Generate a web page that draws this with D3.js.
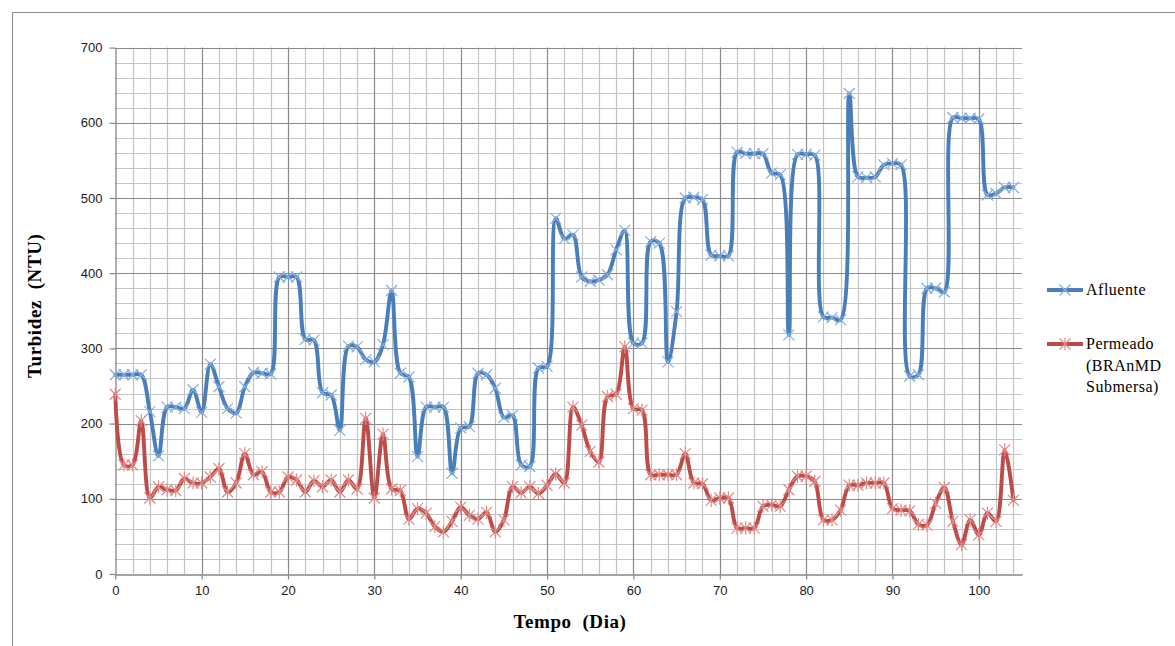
<!DOCTYPE html>
<html>
<head>
<meta charset="utf-8">
<script src="https://cdn.jsdelivr.net/npm/d3@7"></script>
<style>
  html, body { margin: 0; padding: 0; background: #ffffff; }
  svg { display: block; }
  text { white-space: pre; }
</style>
</head>
<body>
<svg id="chart" width="1175" height="646"></svg>
<script>
// Turbidity per day: influent vs. permeate
const days = d3.range(0, 105);

const afluente = [
  265, 265, 265, 265, 216, 157, 222, 222, 220, 245,
  215, 279, 249, 220, 214, 249, 268, 267, 266, 395,
  395, 395, 312, 311, 241, 238, 191, 303, 302, 285,
  282, 305, 377, 267, 262, 156, 222, 222, 222, 134,
  194, 196, 267, 265, 247, 208, 211, 145, 143, 274,
  276, 473, 446, 451, 395, 389, 391, 398, 431, 457,
  307, 307, 442, 440, 282, 349, 500, 501, 498, 424,
  423, 423, 561, 559, 559, 559, 533, 531, 318, 558,
  558, 557, 342, 341, 338, 639, 528, 527, 528, 544,
  546, 544, 263, 265, 380, 380, 375, 607, 606, 606,
  605, 504, 506, 514, 514
];

const permeado = [
  239, 145, 145, 204, 101, 116, 112, 111, 127, 121,
  121, 129, 140, 109, 121, 160, 132, 136, 109, 109,
  129, 125, 109, 124, 116, 125, 109, 125, 113, 207,
  101, 186, 113, 111, 73, 87, 81, 63, 56, 70,
  89, 78, 73, 82, 56, 72, 116, 108, 116, 107,
  118, 133, 121, 222, 198, 163, 149, 236, 239, 302,
  220, 218, 132, 132, 132, 132, 160, 121, 120, 98,
  101, 101, 61, 61, 61, 90, 92, 90, 112, 130,
  130, 123, 72, 72, 85, 118, 118, 121, 121, 121,
  87, 85, 84, 66, 65, 94, 115, 70, 39, 72,
  52, 81, 70, 165, 98
];

const xTicks = d3.range(0, 101, 10);
const yTicks = d3.range(0, 701, 100);
const seriesNames = ["Afluente", ["Permeado", "(BRAnMD", "Submersa)"]];

const svg = d3.select("#chart");

// outer chart frame
svg.append("rect")
  .attr("x", 12.5).attr("y", 12.5)
  .attr("width", 1200).attr("height", 700)
  .attr("fill", "none").attr("stroke", "#8c8c8c").attr("stroke-width", 1);

const plot = { left: 115.3, right: 1022, top: 47.6, bottom: 574 };

const x = d3.scaleLinear().domain([0, 105]).range([plot.left, plot.right]);
const y = d3.scaleLinear().domain([0, 700]).range([plot.bottom, plot.top]);

// minor grid
const grid = svg.append("g");
grid.selectAll("line.vmin")
  .data(d3.range(2, 105, 2).filter(d => d % 10 !== 0))
  .join("line")
  .attr("x1", d => Math.round(x(d)) + 0.5).attr("x2", d => Math.round(x(d)) + 0.5)
  .attr("y1", plot.top).attr("y2", plot.bottom)
  .attr("stroke", "#c4c4c4").attr("stroke-width", 1.2);
grid.selectAll("line.hmin")
  .data(d3.range(20, 701, 20).filter(d => d % 100 !== 0))
  .join("line")
  .attr("x1", plot.left).attr("x2", plot.right)
  .attr("y1", d => Math.round(y(d)) + 0.5).attr("y2", d => Math.round(y(d)) + 0.5)
  .attr("stroke", "#c4c4c4").attr("stroke-width", 1.2);

// major grid
grid.selectAll("line.vmaj")
  .data(xTicks.filter(d => d > 0))
  .join("line")
  .attr("x1", d => Math.round(x(d)) + 0.5).attr("x2", d => Math.round(x(d)) + 0.5)
  .attr("y1", plot.top).attr("y2", plot.bottom)
  .attr("stroke", "#8a8a8a").attr("stroke-width", 1.2);
grid.selectAll("line.hmaj")
  .data(yTicks.filter(d => d > 0))
  .join("line")
  .attr("x1", plot.left).attr("x2", plot.right)
  .attr("y1", d => Math.round(y(d)) + 0.5).attr("y2", d => Math.round(y(d)) + 0.5)
  .attr("stroke", "#8a8a8a").attr("stroke-width", 1.2);

// axes
const xAxis = svg.append("g")
  .attr("transform", `translate(0,${Math.round(plot.bottom) + 0.5})`)
  .call(d3.axisBottom(x).tickValues(xTicks).tickSize(5).tickPadding(6).tickSizeOuter(0).tickFormat(d3.format("d")));
const yAxis = svg.append("g")
  .attr("transform", `translate(${Math.round(plot.left) + 0.5},0)`)
  .call(d3.axisLeft(y).tickValues(yTicks).tickSize(6).tickPadding(7).tickSizeOuter(0).tickFormat(d3.format("d")));

[xAxis, yAxis].forEach(a => {
  a.select(".domain").attr("stroke", "#868686").attr("stroke-width", 1.3);
  a.selectAll(".tick line").attr("stroke", "#868686").attr("stroke-width", 1.2);
  a.selectAll(".tick text")
    .attr("fill", "#1a1a1a")
    .style("font-family", "'Liberation Sans', Arial, sans-serif")
    .style("font-size", "13px");
});

// axis titles
svg.append("text")
  .attr("transform", `translate(41,${(plot.top + plot.bottom) / 2 - 5}) rotate(-90)`)
  .attr("text-anchor", "middle")
  .style("font-family", "'Liberation Serif', 'Times New Roman', serif")
  .style("font-weight", "bold").style("font-size", "19px")
  .style("letter-spacing", "0.6px")
  .attr("fill", "#000")
  .text("Turbidez  (NTU)");
svg.append("text")
  .attr("x", 570).attr("y", 628)
  .attr("text-anchor", "middle")
  .style("font-family", "'Liberation Serif', 'Times New Roman', serif")
  .style("font-weight", "bold").style("font-size", "19px")
  .style("letter-spacing", "0.6px")
  .attr("fill", "#000")
  .text("Tempo  (Dia)");

// series
const series = [
  { values: afluente, color: "#4a7ebb", marker: "#86aede", star: false },
  { values: permeado, color: "#be4b48", marker: "#e08b88", star: true }
];

const line = d3.line()
  .x((d, i) => x(days[i]))
  .y(d => y(d))
  .curve(d3.curveCatmullRom.alpha(0.5));

function markerPath(cx, cy, s, star) {
  let p = `M${cx - s},${cy - s}L${cx + s},${cy + s}M${cx - s},${cy + s}L${cx + s},${cy - s}`;
  if (star) p += `M${cx},${cy - s * 1.2}L${cx},${cy + s * 1.2}`;
  return p;
}

series.forEach(s => {
  const g = svg.append("g");
  g.append("path")
    .datum(s.values)
    .attr("d", line)
    .attr("fill", "none")
    .attr("stroke", s.color)
    .attr("stroke-width", 3.9)
    .attr("stroke-linejoin", "round")
    .attr("stroke-linecap", "round");
  g.selectAll("path.m")
    .data(s.values)
    .join("path")
    .attr("d", (d, i) => markerPath(x(days[i]), y(d), 5.5, s.star))
    .attr("fill", "none")
    .attr("stroke", s.marker)
    .attr("stroke-width", 1.2);
});

// legend
const legend = svg.append("g");
const legendRows = [
  { y: 290, color: series[0].color, marker: series[0].marker, star: false, lines: [seriesNames[0]] },
  { y: 344, color: series[1].color, marker: series[1].marker, star: true, lines: seriesNames[1] }
];
legendRows.forEach(r => {
  legend.append("line")
    .attr("x1", 1047).attr("x2", 1083)
    .attr("y1", r.y).attr("y2", r.y)
    .attr("stroke", r.color).attr("stroke-width", 3.9);
  legend.append("path")
    .attr("d", markerPath(1065, r.y, 5.5, r.star))
    .attr("fill", "none").attr("stroke", r.marker).attr("stroke-width", 1.2);
  const t = legend.append("text")
    .attr("x", 1086).attr("y", r.y + 5)
    .style("font-family", "'Liberation Serif', 'Times New Roman', serif")
    .style("font-size", "16px")
    .style("letter-spacing", "0.5px")
    .attr("fill", "#000");
  r.lines.forEach((l, i) => {
    t.append("tspan").attr("x", 1086).attr("dy", i === 0 ? 0 : 21.5).text(l);
  });
});
</script>
</body>
</html>
